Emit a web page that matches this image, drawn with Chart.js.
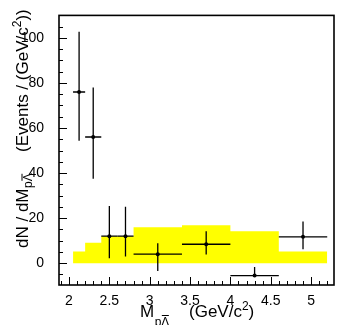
<!DOCTYPE html>
<html><head><meta charset="utf-8">
<script src="https://cdn.jsdelivr.net/npm/chart.js@4/dist/chart.umd.min.js"></script>
<style>html,body{margin:0;padding:0;background:#fff;}#wrap{width:337px;height:325px;}</style>
</head><body><div id="wrap"><canvas id="c" width="337" height="325"></canvas></div>
<script>
// Yellow histogram (bin edges and contents)
const binEdges = [2.05, 2.2, 2.4, 2.8, 3.4, 4.0, 4.6, 5.2];
const binValues = [5.2, 9.1, 12, 15.9, 16.8, 14.2, 5.2];
// Data points with errors
const pointX = [2.125, 2.3, 2.5, 2.7, 3.1, 3.7, 4.3, 4.9];
const pointY = [76, 56, 12, 12, 4, 8.4, -5.5, 11.7];
const xErr = [0.075, 0.1, 0.1, 0.1, 0.3, 0.3, 0.3, 0.3];
const yErrUp = [26.7, 22, 13.4, 13, 4.8, 5.8, 3.8, 6.8];
const yErrDown = [21.6, 18.5, 9.8, 9.1, 7.5, 4.6, 0, 5.5];
// Tick labels
const xTickLabels = [2, 2.5, 3, 3.5, 4, 4.5, 5];
const yTickLabels = [0, 20, 40, 60, 80, 100];

const FONT = "'Liberation Sans', Arial, Helvetica, sans-serif";

const stepPts = binValues.map((v, i) => ({x: binEdges[i], y: v}));
stepPts.push({x: binEdges[binEdges.length - 1], y: binValues[binValues.length - 1]});

// draws "p" + "Λ" with a bar over Λ
function subPLambda(ctx, x, y) {
  ctx.fillText('p\u039B', x, y);
  const wp = ctx.measureText('p').width;
  const wl = ctx.measureText('\u039B').width;
  ctx.save();
  ctx.lineWidth = 1;
  ctx.beginPath();
  ctx.moveTo(x + wp + 0.5, y - 10);
  ctx.lineTo(x + wp + wl - 0.5, y - 10);
  ctx.stroke();
  ctx.restore();
  return wp + wl;
}

const decor = {
  id: 'decor',
  afterDatasetsDraw(chart) {
    const ctx = chart.ctx, xs = chart.scales.x, ys = chart.scales.y;
    ctx.save();
    ctx.strokeStyle = '#000';
    ctx.lineWidth = 1.3;
    pointX.forEach((px, i) => {
      const cx = xs.getPixelForValue(px), cy = ys.getPixelForValue(pointY[i]);
      ctx.beginPath();
      ctx.moveTo(xs.getPixelForValue(px - xErr[i]), cy);
      ctx.lineTo(xs.getPixelForValue(px + xErr[i]), cy);
      ctx.moveTo(cx, ys.getPixelForValue(pointY[i] + yErrUp[i]));
      ctx.lineTo(cx, ys.getPixelForValue(pointY[i] - yErrDown[i]));
      ctx.stroke();
    });
    ctx.restore();
  },
  afterDraw(chart) {
    const ctx = chart.ctx, xs = chart.scales.x, ys = chart.scales.y, a = chart.chartArea;
    ctx.save();
    ctx.strokeStyle = '#000';
    ctx.lineWidth = 1;
    ctx.beginPath();
    for (let k = 19; k <= 52; k++) {
      const v = k / 10;
      const px = Math.round(xs.getPixelForValue(v)) + 0.5;
      const len = (k % 5 === 0) ? 8 : 4;
      ctx.moveTo(px, a.bottom);
      ctx.lineTo(px, a.bottom - len);
    }
    for (let v = -5; v <= 105; v += 5) {
      const py = Math.round(ys.getPixelForValue(v)) + 0.5;
      const len = (v % 20 === 0) ? 8 : 4;
      ctx.moveTo(a.left, py);
      ctx.lineTo(a.left + len, py);
    }
    ctx.stroke();
    ctx.lineWidth = 1.6;
    ctx.strokeRect(a.left, a.top, a.right - a.left, a.bottom - a.top);

    ctx.fillStyle = '#000';
    ctx.textBaseline = 'alphabetic';
    ctx.textAlign = 'left';
    const big = '17px ' + FONT, small = '12px ' + FONT;
    // X title
    let x = 140;
    const yb = 316.5;
    ctx.font = big; ctx.fillText('M', x, yb); x += ctx.measureText('M').width + 0.5;
    ctx.font = small; subPLambda(ctx, x, yb + 9);
    x = 189;
    ctx.font = big; ctx.fillText('(GeV/c', x, yb); x += ctx.measureText('(GeV/c').width;
    ctx.font = small; ctx.fillText('2', x, yb - 7); x += ctx.measureText('2').width;
    ctx.font = big; ctx.fillText(')', x, yb);
    // Y title (rotated)
    ctx.translate(28, 248);
    ctx.rotate(-Math.PI / 2);
    let u = 0;
    ctx.font = big; ctx.fillText('dN / dM', u, 0); u += ctx.measureText('dN / dM').width + 0.5;
    ctx.font = small; subPLambda(ctx, u, 4);
    u = 96;
    ctx.font = big; ctx.fillText('(Events / (GeV/c', u, 0); u += ctx.measureText('(Events / (GeV/c').width;
    ctx.font = small; ctx.fillText('2', u, -7); u += ctx.measureText('2').width;
    ctx.font = big; ctx.fillText('))', u, 0);
    ctx.restore();
  }
};

new Chart(document.getElementById('c'), {
  type: 'scatter',
  data: {
    datasets: [
      {
        type: 'scatter',
        data: pointX.map((px, i) => ({x: px, y: pointY[i]})),
        pointRadius: 2,
        pointHoverRadius: 2,
        pointStyle: 'circle',
        backgroundColor: '#000',
        borderColor: '#000',
        borderWidth: 0
      },
      {
        type: 'line',
        data: stepPts,
        stepped: 'before',
        fill: 'origin',
        backgroundColor: '#ffff00',
        borderWidth: 0,
        borderColor: 'rgba(0,0,0,0)',
        pointRadius: 0,
        tension: 0
      }
    ]
  },
  options: {
    responsive: false,
    animation: false,
    events: [],
    layout: {padding: {top: 9, right: 3, left: 0, bottom: 0}},
    plugins: {legend: {display: false}, tooltip: {enabled: false}},
    scales: {
      x: {
        type: 'linear',
        min: 1.876, max: 5.284,
        grid: {display: false},
        border: {display: false},
        afterBuildTicks: s => { s.ticks = xTickLabels.map(v => ({value: v})); },
        afterFit: s => { s.height = 40; },
        ticks: {font: {family: FONT, size: 14}, color: '#000', padding: 0, maxRotation: 0, autoSkip: false,
          callback: v => String(v)}
      },
      y: {
        type: 'linear',
        min: -9.7, max: 110,
        grid: {display: false},
        border: {display: false},
        afterBuildTicks: s => { s.ticks = yTickLabels.map(v => ({value: v})); },
        afterFit: s => { s.width = 59; },
        ticks: {font: {family: FONT, size: 14}, color: '#000', padding: 7, autoSkip: false,
          callback: v => String(v)}
      }
    }
  },
  plugins: [decor]
});
</script>
</body></html>
